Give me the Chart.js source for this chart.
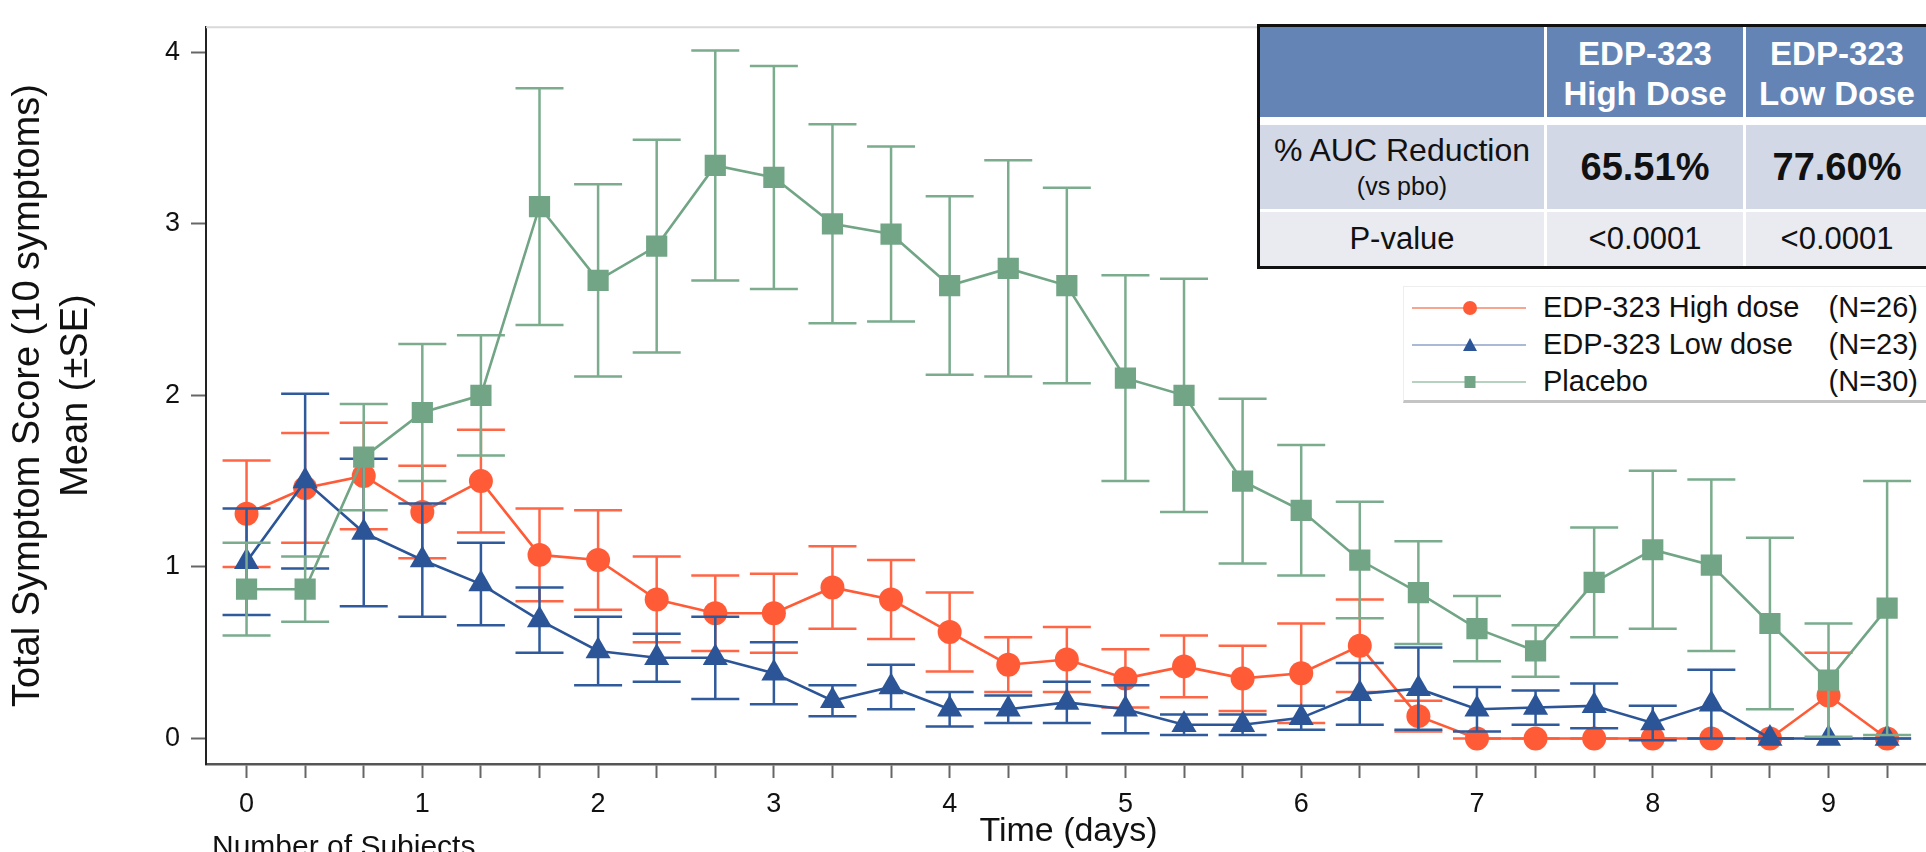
<!DOCTYPE html>
<html lang="en">
<head>
<meta charset="utf-8">
<title>EDP-323 Total Symptom Score</title>
<script src="https://cdn.jsdelivr.net/npm/chart.js@4.4.1/dist/chart.umd.min.js"></script>
<style>
  html, body { margin: 0; padding: 0; background: #fff; }
  body { position: relative; width: 1926px; height: 852px; overflow: hidden;
         font-family: "Liberation Sans", Arial, Helvetica, sans-serif; color: #111; }
  #chart { position: absolute; left: 0; top: 0; }

  /* AUC table, top right */
  #auc { position: absolute; left: 1257px; top: 24px; display: grid;
         grid-template-columns: 284px 196px 182px; grid-template-rows: 95px 84px 54px;
         gap: 3px; background: #fff; border: 3px solid #111; }
  #auc > div { display: flex; flex-direction: column; align-items: center; justify-content: center;
               text-align: center; box-sizing: border-box; white-space: nowrap; }
  #auc .head { background: #6584B6; color: #fff; font-weight: bold; font-size: 33px; line-height: 40px;
               border-bottom: 5px solid #fff; padding-top: 4px; }
  #auc .auc { background: #D2D8E6; }
  #auc .pval { background: #E9EBF1; font-size: 31px; }
  #auc .label { font-size: 32px; line-height: 34px; }
  #auc .sub { font-size: 25px; line-height: 30px; margin-top: 4px; }
  #auc .big { font-size: 38px; font-weight: bold; }

  /* legend */
  #legend { position: absolute; left: 1403px; top: 286px; width: 560px; height: 111px; padding-top: 2px;
            background: #fff; border-top: 1px solid #eee; border-left: 1px solid #eee;
            border-bottom: 3px solid #c4c4c4; }
  #legend .item { display: flex; align-items: center; height: 37px; font-size: 29px; }
  #legend svg { flex: none; margin-left: 8px; margin-right: 17px; }
  #legend .txt { width: 375px; display: flex; justify-content: space-between; white-space: nowrap; }

  #subjects { position: absolute; left: 212px; top: 831px; font-size: 30px; line-height: 30px; white-space: nowrap; }
</style>
</head>
<body>
<canvas id="chart" width="1946" height="852"></canvas>

<div id="auc">
  <div class="head"></div>
  <div class="head"><span>EDP-323</span><span>High Dose</span></div>
  <div class="head"><span>EDP-323</span><span>Low Dose</span></div>
  <div class="auc"><span class="label">% AUC Reduction</span><span class="sub">(vs pbo)</span></div>
  <div class="auc"><span class="big">65.51%</span></div>
  <div class="auc"><span class="big">77.60%</span></div>
  <div class="pval">P-value</div>
  <div class="pval">&lt;0.0001</div>
  <div class="pval">&lt;0.0001</div>
</div>

<div id="legend">
  <div class="item">
    <svg width="114" height="20"><line x1="0" y1="10" x2="114" y2="10" stroke="#F8A590" stroke-width="2"/><circle cx="58" cy="10" r="7" fill="#FF5B37"/></svg>
    <div class="txt"><span>EDP-323 High dose</span><span>(N=26)</span></div>
  </div>
  <div class="item">
    <svg width="114" height="20"><line x1="0" y1="10" x2="114" y2="10" stroke="#A9B9D6" stroke-width="2"/><polygon points="58,3 65,16 51,16" fill="#2B5597"/></svg>
    <div class="txt"><span>EDP-323 Low dose</span><span>(N=23)</span></div>
  </div>
  <div class="item">
    <svg width="114" height="20"><line x1="0" y1="10" x2="114" y2="10" stroke="#B6D1C0" stroke-width="2"/><rect x="52.5" y="4" width="11" height="12" fill="#72A585"/></svg>
    <div class="txt"><span>Placebo</span><span>(N=30)</span></div>
  </div>
</div>

<div id="subjects">Number of Subjects</div>

<script>
// assessment times (days)
const days = [0, 1/3, 2/3, 1, 4/3, 5/3, 2, 7/3, 8/3, 3, 10/3, 11/3, 4, 13/3, 14/3,
              5, 16/3, 17/3, 6, 19/3, 20/3, 7, 22/3, 23/3, 8, 25/3, 26/3, 9, 28/3];
const yTicks = [0, 1, 2, 3, 4];

// EDP-323 high dose: mean and SE
const highMean = [1.31, 1.46, 1.53, 1.32, 1.50, 1.07, 1.04, 0.81, 0.73, 0.73, 0.88, 0.81, 0.62, 0.43, 0.46,
                  0.35, 0.42, 0.35, 0.38, 0.54, 0.13, 0, 0, 0, 0, 0, 0, 0.25, 0];
const highSE   = [0.31, 0.32, 0.31, 0.27, 0.30, 0.27, 0.29, 0.25, 0.22, 0.23, 0.24, 0.23, 0.23, 0.16, 0.19,
                  0.17, 0.18, 0.19, 0.29, 0.27, 0.09, 0, 0, 0, 0, 0, 0, 0.25, 0];

// EDP-323 low dose
const lowMean = [1.03, 1.50, 1.20, 1.04, 0.90, 0.69, 0.51, 0.47, 0.47, 0.38, 0.22, 0.30, 0.17, 0.17, 0.21,
                 0.17, 0.08, 0.08, 0.12, 0.26, 0.29, 0.17, 0.18, 0.19, 0.09, 0.20, 0, 0, 0];
const lowSE   = [0.31, 0.51, 0.43, 0.33, 0.24, 0.19, 0.20, 0.14, 0.24, 0.18, 0.09, 0.13, 0.10, 0.08, 0.12,
                 0.14, 0.06, 0.06, 0.07, 0.18, 0.24, 0.13, 0.10, 0.13, 0.10, 0.20, 0, 0, 0];

// placebo
const placeboMean = [0.87, 0.87, 1.64, 1.90, 2.00, 3.10, 2.67, 2.87, 3.34, 3.27, 3.00, 2.94, 2.64, 2.74, 2.64,
                     2.10, 2.00, 1.50, 1.33, 1.04, 0.85, 0.64, 0.51, 0.91, 1.10, 1.01, 0.67, 0.34, 0.76];
const placeboSE   = [0.27, 0.19, 0.31, 0.40, 0.35, 0.69, 0.56, 0.62, 0.67, 0.65, 0.58, 0.51, 0.52, 0.63, 0.57,
                     0.60, 0.68, 0.48, 0.38, 0.34, 0.30, 0.19, 0.15, 0.32, 0.46, 0.50, 0.50, 0.33, 0.74];

const RED = '#FF5B37', BLUE = '#2B5597', GREEN = '#72A585';

Chart.defaults.font.family = '"Liberation Sans", Arial, Helvetica, sans-serif';

const toPoints = (mean) => days.map((d, i) => ({ x: d, y: mean[i] }));

// vertical SE bars with caps, drawn just under each dataset
const errorBars = {
  id: 'errorBars',
  beforeDatasetDraw(chart, args) {
    const ds = chart.data.datasets[args.index];
    const { ctx, scales: { x, y } } = chart;
    ctx.save();
    ctx.strokeStyle = ds.errorColor;
    ctx.lineWidth = 2.5;
    ds.data.forEach((p, i) => {
      const px = x.getPixelForValue(p.x);
      const hi = y.getPixelForValue(p.y + ds.se[i]);
      const lo = y.getPixelForValue(p.y - ds.se[i]);
      ctx.beginPath();
      ctx.moveTo(px, hi); ctx.lineTo(px, lo);
      ctx.moveTo(px - 24, hi); ctx.lineTo(px + 24, hi);
      ctx.moveTo(px - 24, lo); ctx.lineTo(px + 24, lo);
      ctx.stroke();
    });
    ctx.restore();
  }
};

// light line on top of the plot frame
const frameTop = {
  id: 'frameTop',
  beforeDatasetsDraw(chart) {
    const { ctx, chartArea: a } = chart;
    ctx.save();
    ctx.strokeStyle = '#d9d9d9';
    ctx.lineWidth = 2;
    ctx.beginPath();
    ctx.moveTo(a.left, a.top);
    ctx.lineTo(a.right, a.top);
    ctx.stroke();
    ctx.restore();
  }
};

new Chart(document.getElementById('chart'), {
  type: 'line',
  data: {
    datasets: [
      { label: 'EDP-323 High dose (N=26)', data: toPoints(highMean), se: highSE, errorColor: '#FF6646',
        borderColor: RED, backgroundColor: RED, borderWidth: 2.6, pointStyle: 'circle', pointRadius: 12,
        pointBorderWidth: 0, order: 2 },
      { label: 'EDP-323 Low dose (N=23)', data: toPoints(lowMean), se: lowSE, errorColor: '#2F5A9B',
        borderColor: BLUE, backgroundColor: BLUE, borderWidth: 2.6, pointStyle: 'triangle', pointRadius: 14.5,
        pointBorderWidth: 0, order: 1 },
      { label: 'Placebo (N=30)', data: toPoints(placeboMean), se: placeboSE, errorColor: '#7BAC8D',
        borderColor: GREEN, backgroundColor: GREEN, borderWidth: 2.6, pointStyle: 'rect', pointRadius: 15,
        pointBorderWidth: 0, order: 0 }
    ]
  },
  options: {
    responsive: false,
    animation: false,
    devicePixelRatio: 1,
    layout: { padding: { top: 13, left: 0, right: 0, bottom: 0 } },
    plugins: { legend: { display: false }, tooltip: { enabled: false } },
    scales: {
      x: {
        type: 'linear', min: -0.2307, max: 9.583,
        afterFit(scale) { scale.height = 88; },
        afterBuildTicks(scale) { scale.ticks = days.map(v => ({ value: v })); },
        ticks: { autoSkip: false, maxRotation: 0, font: { size: 27 }, color: '#111', padding: 10,
                 callback: v => Number.isInteger(v) ? String(v) : '' },
        grid: { drawOnChartArea: false, tickLength: 14, tickWidth: 2, tickColor: '#666' },
        border: { color: '#555', width: 2.5 },
        title: { display: true, text: 'Time (days)', font: { size: 34 }, color: '#111',
                 padding: { top: 0, bottom: 0 } }
      },
      y: {
        min: -0.149, max: 4.146,
        afterFit(scale) { scale.width = 206; },
        afterBuildTicks(scale) { scale.ticks = yTicks.map(v => ({ value: v })); },
        ticks: { font: { size: 27 }, color: '#111', padding: 11 },
        grid: { drawOnChartArea: false, tickLength: 15, tickWidth: 2, tickColor: '#666' },
        border: { color: '#222', width: 2 },
        title: { display: true, text: ['Total Symptom Score (10 symptoms)', 'Mean (\u00B1SE)'],
                 font: { size: 38, lineHeight: 1.25 }, color: '#111', padding: { top: 5, bottom: 0 } }
      }
    }
  },
  plugins: [errorBars, frameTop]
});
</script>
</body>
</html>
